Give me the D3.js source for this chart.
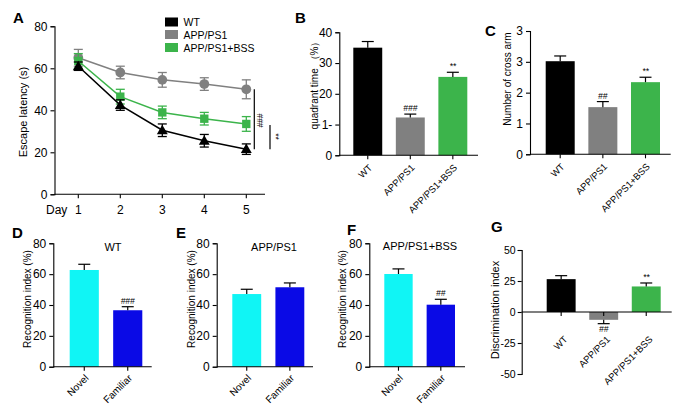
<!DOCTYPE html>
<html><head><meta charset="utf-8">
<script src="https://cdn.jsdelivr.net/npm/d3@7"></script>
<style>body{margin:0;background:#fff}svg{display:block}</style>
</head><body>
<svg id="c" width="680" height="405"></svg>
<script>
// ---------- DATA ----------
const days = [1, 2, 3, 4, 5];
const groups = ["WT", "APP/PS1", "APP/PS1+BSS"];
const latencyWT = [61, 42.5, 30.5, 25.5, 21.5];
const latencyWTErr = [2, 2.5, 3, 3, 2.5];
const latencyAPP = [65, 58, 54.5, 52.5, 50];
const latencyAPPErr = [4, 3, 3.5, 3, 4.5];
const latencyBSS = [63.5, 46.5, 39, 36, 33.5];
const latencyBSSErr = [3.5, 3.5, 3, 3, 3.5];
const latencyTicks = [0, 20, 40, 60, 80];

const quadrantTime = [35, 12.3, 25.5];
const quadrantTimeErr = [2, 1.1, 1.5];
const quadrantTickValues = [0, 10, 20, 30, 40];
const quadrantTickLabels = ["0", "1-", "20", "30", "40"];
const quadrantSig = ["", "###", "**"];

const crossArm = [3.02, 1.53, 2.34];
const crossArmErr = [0.17, 0.18, 0.16];
const crossTickValues = [0, 1, 2, 3, 4];
const crossTickLabels = ["0", "1", "2", "3", "3"];
const crossSig = ["", "##", "**"];

const objects = ["Novel", "Familiar"];
const recogWT = [62.7, 36.6];
const recogWTErr = [3.7, 2.3];
const recogWTSig = ["", "###"];
const recogAPP = [47.1, 51.5];
const recogAPPErr = [3.1, 2.8];
const recogAPPSig = ["", ""];
const recogBSS = [60.1, 40.2];
const recogBSSErr = [3.3, 3.5];
const recogBSSSig = ["", "##"];
const recogTicks = [0, 20, 40, 60, 80];

const discrim = [26.5, -6.3, 20.6];
const discrimErr = [2.8, 3.1, 2.8];
const discrimSig = ["", "##", "**"];
const discrimTicks = [-50, -25, 0, 25, 50];

const groupColors = ["#000000", "#808080", "#3cb44b"];
const objectColors = ["#10f5f5", "#0a0ae6"];
// ---------------------------

const FONT = "'Liberation Sans', Arial, Helvetica, sans-serif";
const svg = d3.select("#c").style("font-family", FONT);

function panelLetter(t, x, y) {
  svg.append("text").attr("x", x).attr("y", y).text(t)
    .attr("font-size", 15).attr("font-weight", "bold").attr("fill", "#000");
}
function yTitle(t, x, y, fs) {
  svg.append("text").attr("transform", `translate(${x},${y}) rotate(-90)`)
    .attr("text-anchor", "middle").attr("font-size", fs || 11).text(t);
}
function yAxis(g, y, x, vals, labels, fs) {
  const ax = d3.axisLeft(y).tickValues(vals).tickSize(4).tickPadding(fs ? 2 : 3)
    .tickFormat((d, i) => labels ? labels[i] : d);
  const a = g.append("g").attr("transform", `translate(${x},0)`).call(ax);
  a.selectAll("text").attr("font-size", fs || 12).attr("font-family", FONT).attr("fill", "#000");
  a.selectAll("line,path").attr("stroke", "#000").attr("stroke-width", 1.1);
  return a;
}

// ---------- Panel A ----------
(function () {
  const g = svg.append("g");
  const x = d3.scaleLinear().domain([1, 5]).range([78.3, 246.3]);
  const y = d3.scaleLinear().domain([0, 80]).range([194.3, 26.3]);
  yAxis(g, y, 54.5, latencyTicks);
  g.append("line").attr("x1", 54.5).attr("x2", 265).attr("y1", y(0)).attr("y2", y(0))
    .attr("stroke", "#000").attr("stroke-width", 1.1);
  days.forEach(d => {
    g.append("line").attr("x1", x(d)).attr("x2", x(d)).attr("y1", y(0)).attr("y2", y(0) + 4)
      .attr("stroke", "#000").attr("stroke-width", 1.1);
    g.append("text").attr("x", x(d)).attr("y", 214).attr("text-anchor", "middle")
      .attr("font-size", 12).text(d);
  });
  g.append("text").attr("x", 46).attr("y", 214).attr("font-size", 12).text("Day");

  const series = [
    { v: latencyAPP, e: latencyAPPErr, c: groupColors[1], m: "circle" },
    { v: latencyBSS, e: latencyBSSErr, c: groupColors[2], m: "square" },
    { v: latencyWT, e: latencyWTErr, c: groupColors[0], m: "triangle" }
  ];
  const line = d3.line().x((d, i) => x(days[i])).y(d => y(d));
  series.forEach(s => {
    g.append("path").datum(s.v).attr("d", line).attr("fill", "none")
      .attr("stroke", s.c).attr("stroke-width", 1.5);
    s.v.forEach((v, i) => {
      const cx = x(days[i]);
      const y1 = y(v + s.e[i]), y2 = y(v - s.e[i]);
      g.append("line").attr("x1", cx).attr("x2", cx).attr("y1", y1).attr("y2", y2)
        .attr("stroke", s.c).attr("stroke-width", 1.3);
      [y1, y2].forEach(yy => g.append("line").attr("x1", cx - 4.5).attr("x2", cx + 4.5)
        .attr("y1", yy).attr("y2", yy).attr("stroke", s.c).attr("stroke-width", 1.3));
      const sym = s.m === "circle" ? d3.symbolCircle : s.m === "square" ? d3.symbolSquare : d3.symbolTriangle;
      const size = s.m === "circle" ? 75 : s.m === "square" ? 70 : 52;
      g.append("path").attr("d", d3.symbol().type(sym).size(size)())
        .attr("transform", `translate(${cx},${y(v) + (s.m === "triangle" ? 0.8 : 0)})`)
        .attr("fill", s.c);
    });
  });
  // significance brackets
  g.append("line").attr("x1", 254.3).attr("x2", 254.3).attr("y1", y(latencyAPP[4])).attr("y2", y(latencyWT[4]))
    .attr("stroke", "#000").attr("stroke-width", 1.2);
  g.append("line").attr("x1", 270).attr("x2", 270).attr("y1", y(latencyBSS[4] - 0.5)).attr("y2", y(latencyWT[4]))
    .attr("stroke", "#000").attr("stroke-width", 1.2);
  g.append("text").attr("transform", `translate(257,120.5) rotate(90)`).attr("text-anchor", "middle")
    .attr("font-size", 8.5).text("###");
  g.append("text").attr("transform", `translate(273,136.5) rotate(90)`).attr("text-anchor", "middle")
    .attr("font-size", 8.5).text("**");
  // legend
  groups.forEach((gname, i) => {
    const ly = [24, 36.5, 49.5][i];
    g.append("rect").attr("x", 165).attr("y", ly - 6.5).attr("width", 13).attr("height", 9)
      .attr("fill", groupColors[i]);
    g.append("text").attr("x", 183.5).attr("y", ly + 2).attr("font-size", 10.5).text(gname);
  });
  panelLetter("A", 13, 23);
  yTitle("Escape latency (s)", 27, 112, 11);
})();

// ---------- bar panel helper ----------
function barPanel(o) {
  const g = svg.append("g");
  const x = d3.scaleBand().domain(o.cats).range([o.barL, o.barR]).paddingInner(o.pad).paddingOuter(0);
  const y = d3.scaleLinear().domain(o.dom).range([o.y0, o.y1]);
  yAxis(g, y, o.axisX, o.tickVals, o.tickLabels, o.tickFs);
  const base = y(0);
  o.vals.forEach((v, i) => {
    const c = o.cats[i];
    const bx = x(c), bw = x.bandwidth();
    g.append("rect").attr("x", bx).attr("width", bw)
      .attr("y", Math.min(y(v), base)).attr("height", Math.abs(y(v) - base))
      .attr("fill", o.colors[i]);
    const cx = bx + bw / 2;
    const ev = v >= 0 ? v + o.errs[i] : v - o.errs[i];
    g.append("line").attr("x1", cx).attr("x2", cx).attr("y1", y(v)).attr("y2", y(ev))
      .attr("stroke", "#000").attr("stroke-width", 1.2);
    g.append("line").attr("x1", cx - 6).attr("x2", cx + 6).attr("y1", y(ev)).attr("y2", y(ev))
      .attr("stroke", "#000").attr("stroke-width", 1.2);
    if (o.sig && o.sig[i]) {
      g.append("text").attr("x", cx).attr("y", v >= 0 ? y(ev) - 3 : y(ev) + 8)
        .attr("text-anchor", "middle").attr("font-size", 8.5).attr("font-style", "italic").text(o.sig[i]);
    }
  });
  // x axis line at zero
  g.append("line").attr("x1", o.axisX).attr("x2", o.axisR).attr("y1", base).attr("y2", base)
    .attr("stroke", "#000").attr("stroke-width", 1.1);
  o.cats.forEach(c => {
    const cx = x(c) + x.bandwidth() / 2;
    g.append("line").attr("x1", cx).attr("x2", cx).attr("y1", base).attr("y2", base + 4)
      .attr("stroke", "#000").attr("stroke-width", 1.1);
    g.append("text").attr("transform", `translate(${cx + (o.labDx || 5)},${base + (o.labOff || 13)}) rotate(-45)`)
      .attr("text-anchor", "end").attr("font-size", o.labFs || 9.5).text(c);
  });
  if (o.title) g.append("text").attr("x", o.titleX).attr("y", o.titleY).attr("text-anchor", "middle")
    .attr("font-size", 11).text(o.title);
  return g;
}

// B
barPanel({ cats: groups, vals: quadrantTime, errs: quadrantTimeErr, colors: groupColors, sig: quadrantSig,
  barL: 353.3, barR: 467.3, pad: 0.32, dom: [0, 40], y0: 155.3, y1: 32.3, axisX: 339.3, axisR: 478,
  tickVals: quadrantTickValues, tickLabels: quadrantTickLabels });
panelLetter("B", 295, 23);
yTitle("quadrant time （%）", 318, 83, 10);

// C
barPanel({ cats: groups, vals: crossArm, errs: crossArmErr, colors: groupColors, sig: crossSig,
  barL: 545.7, barR: 660, pad: 0.32, dom: [0, 4], y0: 154.3, y1: 31, axisX: 530, axisR: 670.7,
  tickVals: crossTickValues, tickLabels: crossTickLabels });
panelLetter("C", 485, 36);
yTitle("Number of cross arm", 511, 79, 10);

// D
barPanel({ cats: objects, vals: recogWT, errs: recogWTErr, colors: objectColors, sig: recogWTSig,
  barL: 69.7, barR: 142.3, pad: 0.33, dom: [0, 80], y0: 366.7, y1: 243.3, axisX: 53.3, axisR: 151.7,
  tickVals: recogTicks, title: "WT", titleX: 113, titleY: 251, labOff: 12, labFs: 10 });
panelLetter("D", 12, 238);
yTitle("Recognition index (%)", 31, 299, 10);

// E
barPanel({ cats: objects, vals: recogAPP, errs: recogAPPErr, colors: objectColors, sig: recogAPPSig,
  barL: 232.3, barR: 304.3, pad: 0.33, dom: [0, 80], y0: 366.7, y1: 243.3, axisX: 216.7, axisR: 313,
  tickVals: recogTicks, title: "APP/PS1", titleX: 274, titleY: 251, labOff: 12, labFs: 10 });
panelLetter("E", 176, 238);
yTitle("Recognition index (%)", 195, 299, 10);

// F
barPanel({ cats: objects, vals: recogBSS, errs: recogBSSErr, colors: objectColors, sig: recogBSSSig,
  barL: 384.3, barR: 455, pad: 0.33, dom: [0, 80], y0: 366.7, y1: 243.3, axisX: 369.3, axisR: 465,
  tickVals: recogTicks, title: "APP/PS1+BSS", titleX: 420, titleY: 250, labOff: 12, labFs: 10 });
panelLetter("F", 347, 235);
yTitle("Recognition index (%)", 346, 299, 10);

// G
barPanel({ cats: groups, vals: discrim, errs: discrimErr, colors: groupColors, sig: discrimSig,
  barL: 546.7, barR: 660.7, pad: 0.32, dom: [-50, 50], y0: 374, y1: 250, axisX: 521.7, axisR: 671.7,
  tickVals: discrimTicks, labOff: 28, labDx: 7, tickFs: 10.5 });
panelLetter("G", 491, 232);
yTitle("Discrimination index", 499, 310, 11);
</script>
</body></html>
